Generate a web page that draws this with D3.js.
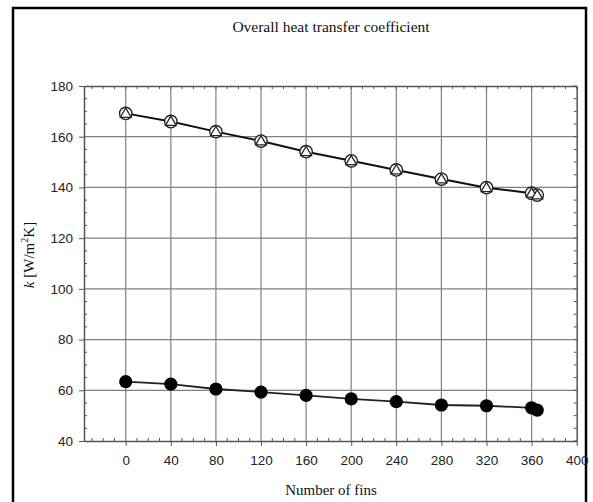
<!DOCTYPE html>
<html>
<head>
<meta charset="utf-8">
<script src="https://cdn.jsdelivr.net/npm/d3@7"></script>
<style>
  body { margin: 0; background: #fff; }
  svg { display: block; }
</style>
</head>
<body>
<div id="chart"></div>
<script>
// data
const fins = [0, 40, 80, 120, 160, 200, 240, 280, 320, 360, 365];
const kOpen = [169.2, 166, 162, 158.3, 154.1, 150.5, 146.9, 143.3, 139.9, 137.7, 137.0];
const kFilled = [63.4, 62.4, 60.5, 59.3, 58.0, 56.6, 55.5, 54.2, 53.9, 53.1, 52.2];
const xTicks = [0, 40, 80, 120, 160, 200, 240, 280, 320, 360, 400];
const yTicks = [40, 60, 80, 100, 120, 140, 160, 180];

const W = 593, H = 502;
const svg = d3.select("#chart").append("svg")
  .attr("width", W).attr("height", H);

// outer frame
svg.append("rect")
  .attr("x", 13).attr("y", 8).attr("width", 573).attr("height", 520)
  .attr("fill", "none").attr("stroke", "#000").attr("stroke-width", 2.5);

const x = d3.scaleLinear().domain([-37, 400]).range([84, 576.7]);
const y = d3.scaleLinear().domain([40, 180]).range([441, 86]);

// grid
svg.append("g").selectAll("line")
  .data(xTicks.filter(d => d < 400))
  .join("line")
  .attr("x1", d => x(d)).attr("x2", d => x(d))
  .attr("y1", y(40)).attr("y2", y(180))
  .attr("stroke", "#808080").attr("stroke-width", 1.2);
svg.append("g").selectAll("line")
  .data(yTicks.slice(1, -1))
  .join("line")
  .attr("x1", x(-37)).attr("x2", x(400))
  .attr("y1", d => y(d)).attr("y2", d => y(d))
  .attr("stroke", "#808080").attr("stroke-width", 1.2);

const axisCol = "#555";
const xMinor = d3.range(-30, 401, 10).filter(d => !xTicks.includes(d));
const yMinor = d3.range(45, 180, 5).filter(d => !yTicks.includes(d));

// bottom axis
const gx = svg.append("g").attr("transform", `translate(0,${y(40)})`)
  .call(d3.axisBottom(x).tickValues(xTicks).tickSize(5).tickPadding(9).tickSizeOuter(0));
gx.append("g").selectAll("line").data(xMinor).join("line")
  .attr("x1", d => x(d)).attr("x2", d => x(d)).attr("y1", 0).attr("y2", -3);
// top axis (inward minor ticks)
const gt = svg.append("g").attr("transform", `translate(0,${y(180)})`)
  .call(d3.axisTop(x).tickValues([]).tickSizeOuter(0));
gt.append("g").selectAll("line").data(xMinor.concat(xTicks)).join("line")
  .attr("x1", d => x(d)).attr("x2", d => x(d)).attr("y1", 0).attr("y2", 3);
// left axis
const gy = svg.append("g").attr("transform", `translate(${x(-37)},0)`)
  .call(d3.axisLeft(y).tickValues(yTicks).tickSize(5).tickPadding(6).tickSizeOuter(0));
gy.append("g").selectAll("line").data(yMinor).join("line")
  .attr("y1", d => y(d)).attr("y2", d => y(d)).attr("x1", 0).attr("x2", 3);
// right axis
const gr = svg.append("g").attr("transform", `translate(${x(400)},0)`)
  .call(d3.axisRight(y).tickValues([]).tickSizeOuter(0));
gr.append("g").selectAll("line").data(yMinor.concat(yTicks)).join("line")
  .attr("y1", d => y(d)).attr("y2", d => y(d)).attr("x1", 0).attr("x2", -3);

svg.selectAll(".domain").attr("stroke", axisCol).attr("stroke-width", 1.5);
svg.selectAll(".tick line").attr("stroke", axisCol).attr("stroke-width", 1.2);
[gx, gt, gy, gr].forEach(g => g.selectAll("g > g > line").attr("stroke", axisCol).attr("stroke-width", 1));
svg.selectAll(".tick text")
  .attr("font-family", "Liberation Sans, Arial, sans-serif")
  .attr("font-size", 13.5).attr("fill", "#222");

// lines
const line = vals => d3.line()
  .x((d, i) => x(fins[i]))
  .y(d => y(d))(vals);

svg.append("path").attr("d", line(kOpen))
  .attr("fill", "none").attr("stroke", "#111").attr("stroke-width", 2);
svg.append("path").attr("d", line(kFilled))
  .attr("fill", "none").attr("stroke", "#222").attr("stroke-width", 1.8);

// filled markers
svg.append("g").selectAll("circle").data(kFilled).join("circle")
  .attr("cx", (d, i) => x(fins[i])).attr("cy", d => y(d))
  .attr("r", 6.6).attr("fill", "#000");

// open markers: circle + triangle
svg.append("g").selectAll("circle").data(kOpen).join("circle")
  .attr("cx", (d, i) => x(fins[i])).attr("cy", d => y(d))
  .attr("r", 6.2).attr("fill", "#fff").attr("stroke", "#222").attr("stroke-width", 1.4);
const tri = d3.symbol().type(d3.symbolTriangle).size(50);
svg.append("g").selectAll("path").data(kOpen).join("path")
  .attr("transform", (d, i) => `translate(${x(fins[i])},${y(d) + 0.8})`)
  .attr("d", tri).attr("fill", "#fff").attr("stroke", "#222").attr("stroke-width", 1.3);

// titles
svg.append("text")
  .attr("x", 331).attr("y", 32).attr("text-anchor", "middle")
  .attr("font-family", "Liberation Serif, Times New Roman, serif")
  .attr("font-size", 15.5).attr("fill", "#111")
  .text("Overall heat transfer coefficient");

svg.append("text")
  .attr("x", 331).attr("y", 495).attr("text-anchor", "middle")
  .attr("font-family", "Liberation Serif, Times New Roman, serif")
  .attr("font-size", 15).attr("fill", "#111")
  .text("Number of fins");

const yl = svg.append("text")
  .attr("transform", "translate(34,255) rotate(-90)")
  .attr("text-anchor", "middle")
  .attr("font-family", "Liberation Serif, Times New Roman, serif")
  .attr("font-size", 15).attr("fill", "#111");
yl.append("tspan").attr("font-style", "italic").text("k");
yl.append("tspan").text(" [W/m");
yl.append("tspan").attr("font-size", 10).attr("dy", -6).text("2");
yl.append("tspan").attr("dy", 6).text("K]");
</script>
</body>
</html>
